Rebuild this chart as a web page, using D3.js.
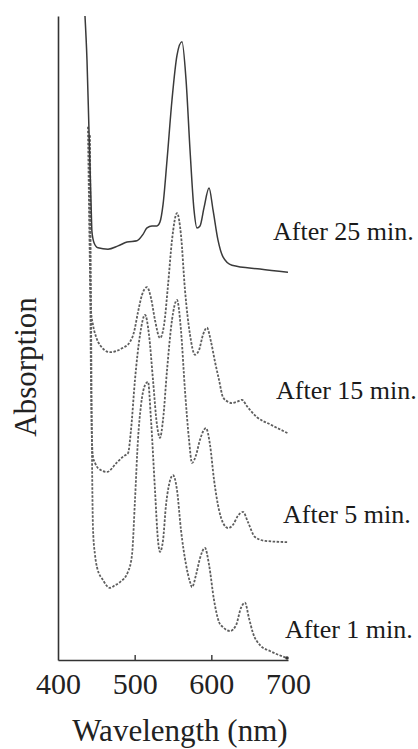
<!DOCTYPE html>
<html>
<head>
<meta charset="utf-8">
<script src="https://cdn.jsdelivr.net/npm/d3@7"></script>
<style>
  body{ margin:0; background:#fff; }
  #graph{ width:418px; height:749px; }
</style>
</head>
<body>
<div id="graph"></div>
<script>
//Tick labels for the wavelength axis
const tick_values = [400, 500, 600, 700];

//Each spectrum kept as its own list of [wavelength (nm), absorption]
const after_25 = [[435.2,1.000],[437.8,0.932],[440.4,0.823],[443.0,0.714],[444.3,0.665],[447.0,0.648],[452.2,0.640],
    [465.2,0.638],[478.3,0.643],[490.0,0.649],[503.0,0.651],[510.9,0.661],[516.1,0.671],[522.6,0.674],[529.1,0.674],
    [533.0,0.680],[537.0,0.707],[542.2,0.776],[548.7,0.870],[555.2,0.939],[561.7,0.960],[567.0,0.901],[572.2,0.792],
    [577.4,0.699],[581.3,0.671],[585.2,0.674],[590.4,0.702],[597.0,0.733],[602.2,0.699],[608.7,0.652],[615.2,0.626],
    [626.9,0.613],[663.5,0.607],[700,0.602]];

const after_15 = [[439.1,0.828],[440.4,0.714],[441.7,0.606],[443.0,0.543],[445.7,0.520],[449.6,0.502],[454.8,0.489],
    [467.8,0.478],[483.5,0.484],[493.9,0.494],[499.1,0.509],[504.3,0.540],[509.6,0.567],[516.1,0.579],[521.3,0.562],
    [526.5,0.528],[533.0,0.500],[538.3,0.520],[543.5,0.582],[548.7,0.652],[555.2,0.694],[560.4,0.660],[565.6,0.575],
    [572.2,0.505],[578.7,0.474],[583.9,0.481],[589.1,0.505],[594.3,0.516],[599.6,0.494],[604.8,0.463],[610.0,0.435],
    [615.2,0.408],[621.7,0.401],[626.9,0.399],[633.5,0.401],[640.0,0.404],[646.5,0.394],[659.6,0.377],[676.5,0.366],
    [700,0.352]];

const after_5 = [[440.4,0.815],[441.7,0.637],[443.0,0.435],[444.3,0.342],[445.7,0.315],[448.3,0.306],[452.2,0.298],
    [463.9,0.292],[477.0,0.307],[486.1,0.317],[491.3,0.321],[495.2,0.357],[500.4,0.435],[507.0,0.505],[513.5,0.536],
    [518.7,0.505],[523.9,0.435],[529.1,0.365],[533.0,0.345],[537.0,0.373],[542.2,0.450],[548.7,0.528],[555.2,0.559],
    [560.4,0.512],[565.6,0.419],[570.9,0.342],[574.8,0.306],[580.0,0.318],[585.2,0.342],[593.0,0.360],[598.3,0.334],
    [603.5,0.280],[610.0,0.233],[615.2,0.213],[621.7,0.205],[628.3,0.210],[634.8,0.224],[641.3,0.230],[647.8,0.214],
    [656.9,0.191],[670.0,0.185],[700,0.183]];

const after_1 = [[441.7,0.815],[443.0,0.559],[444.3,0.326],[445.7,0.202],[448.3,0.163],[450.9,0.144],[458.7,0.124],
    [467.8,0.112],[474.3,0.116],[480.9,0.121],[491.3,0.137],[496.5,0.163],[500.4,0.248],[504.3,0.342],[508.3,0.396],
    [513.5,0.427],[517.4,0.432],[521.3,0.373],[526.5,0.264],[530.4,0.186],[533.0,0.168],[537.0,0.186],[540.9,0.241],
    [544.8,0.272],[550.0,0.287],[555.2,0.264],[560.4,0.202],[567.0,0.148],[572.2,0.121],[574.8,0.113],[580.0,0.132],
    [585.2,0.158],[591.7,0.174],[597.0,0.148],[603.5,0.093],[610.0,0.059],[615.2,0.051],[624.3,0.045],[632.2,0.054],
    [638.7,0.081],[643.9,0.089],[649.1,0.065],[654.3,0.042],[663.5,0.023],[676.5,0.014],[698.7,0.003]];

//Labels written at the right of each curve
const labels = ["After 25 min.", "After 15 min.", "After 5 min.", "After 1 min."];

const series = [
    {name: labels[0], data: after_25, solid: true},
    {name: labels[1], data: after_15, solid: false},
    {name: labels[2], data: after_5, solid: false},
    {name: labels[3], data: after_1, solid: false}
];

const width = 418, height = 749;
const svg = d3.select('#graph')
              .append('svg')
              .attr('width', width)
              .attr('height', height);

//plot box
const plot_left = 58, plot_right = 288, plot_top = 16, plot_bottom = 660;
//where each label is written (left edge, baseline)
const label_pos = [[273, 240], [276, 399], [283, 523], [285, 638]];

const x = d3.scaleLinear().domain([400, 700]).range([plot_left, plot_right]);
const y = d3.scaleLinear().domain([0, 1]).range([plot_bottom, plot_top]);

const line = d3.line()
               .x((d) => x(d[0]))
               .y((d) => y(d[1]))
               .curve(d3.curveMonotoneX);

//draw the curves, bottom one first
const curve_group = svg.append('g');
series.slice().reverse().forEach((s) => {
    curve_group.append('path')
               .datum(s.data)
               .attr('d', line)
               .attr('fill', 'none')
               .attr('stroke', s.solid ? '#3a3a3a' : '#5e5e5e')
               .attr('stroke-width', s.solid ? 1.5 : 1.8)
               .attr('stroke-dasharray', s.solid ? null : '2.5,1.5')
               .attr('stroke-linejoin', 'round');
});

//end dot of the lowest spectrum
svg.append('circle')
   .attr('cx', x(after_1[after_1.length - 1][0]))
   .attr('cy', y(after_1[after_1.length - 1][1]))
   .attr('r', 1.8)
   .attr('fill', '#333');

//x axis, ticks pointing into the plot
const x_axis = svg.append('g')
                  .attr('transform', `translate(0,${plot_bottom})`)
                  .call(d3.axisBottom(x).tickValues(tick_values).tickSizeInner(-5).tickSizeOuter(0).tickPadding(13));
x_axis.select('.domain').attr('stroke', '#333').attr('stroke-width', 1.6);
x_axis.selectAll('.tick line')
      .attr('stroke', '#333')
      .attr('stroke-width', 1.4)
      .attr('display', (d) => (d == 400 || d == 700) ? 'none' : null);
x_axis.selectAll('.tick text')
      .attr('font-family', '"Liberation Serif", "Times New Roman", serif')
      .attr('font-size', 30)
      .attr('fill', '#222');

//y axis has no ticks at all, only the line
const y_axis = svg.append('g')
                  .attr('transform', `translate(${plot_left},0)`)
                  .call(d3.axisLeft(y).tickValues([]).tickSizeOuter(0));
y_axis.select('.domain').attr('stroke', '#333').attr('stroke-width', 1.6);

//axis titles
svg.append('text')
   .text('Wavelength (nm)')
   .attr('x', 180)
   .attr('y', 741)
   .attr('text-anchor', 'middle')
   .attr('font-family', '"Liberation Serif", "Times New Roman", serif')
   .attr('font-size', 31)
   .attr('fill', '#222');

svg.append('text')
   .text('Absorption')
   .attr('transform', 'translate(36,367) rotate(-90)')
   .attr('text-anchor', 'middle')
   .attr('font-family', '"Liberation Serif", "Times New Roman", serif')
   .attr('font-size', 31)
   .attr('fill', '#222');

//series labels
svg.append('g')
   .selectAll('text')
   .data(series)
   .enter()
   .append('text')
   .text((d) => d.name)
   .attr('x', (d, i) => label_pos[i][0])
   .attr('y', (d, i) => label_pos[i][1])
   .attr('font-family', '"Liberation Serif", "Times New Roman", serif')
   .attr('font-size', 26)
   .attr('fill', '#1a1a1a');
</script>
</body>
</html>
